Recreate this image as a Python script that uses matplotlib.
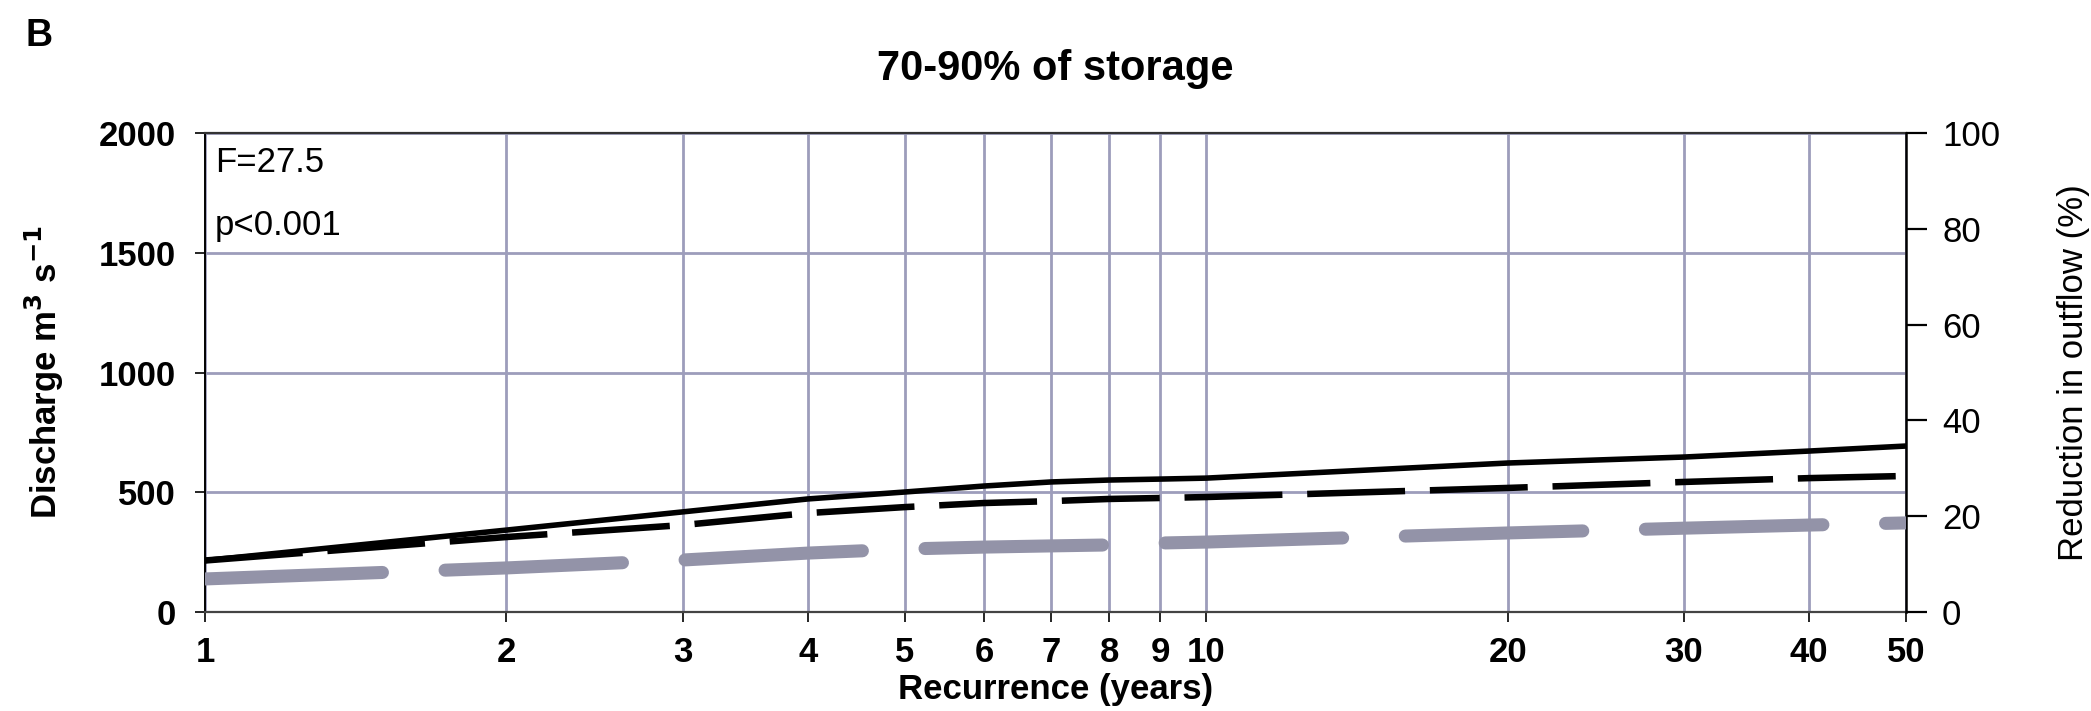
import matplotlib
matplotlib.use("Agg")
import matplotlib.pyplot as plt
from matplotlib.ticker import NullLocator, FixedLocator, FixedFormatter

# recurrence interval (years)
recurrence = [1, 2, 3, 4, 5, 6, 7, 8, 9, 10, 20, 30, 40, 50]
# discharge, m3 s-1
discharge_solid = [215, 342, 418, 472, 501, 526, 543, 551, 555, 559, 622, 647, 672, 693]
discharge_dashed = [215, 313, 363, 413, 438, 455, 463, 472, 476, 480, 518, 543, 559, 568]
# reduction in outflow, %
reduction_pct = [6.9, 9.2, 10.85, 12.3, 13.15, 13.55, 13.8, 14.0, 14.4, 14.6, 16.5, 17.5, 18.15, 18.6]

xticks = [1, 2, 3, 4, 5, 6, 7, 8, 9, 10, 20, 30, 40, 50]
xticklabels = ["1", "2", "3", "4", "5", "6", "7", "8", "9", "10", "20", "30", "40", "50"]
left_ticks = [0, 500, 1000, 1500, 2000]
right_ticks = [0, 20, 40, 60, 80, 100]

GRID = "#9d9dbb"
GRAY = "#9393a8"

plt.rcParams["font.family"] = ["Liberation Sans", "DejaVu Sans"]

W, H = 2091, 711
fig = plt.figure(figsize=(W / 100, H / 100), dpi=100)
x0, x1, ytop, ybot = 205, 1906, 133, 612
ax = fig.add_axes([x0 / W, 1 - ybot / H, (x1 - x0) / W, (ybot - ytop) / H])
ax2 = ax.twinx()

ax.plot(recurrence, discharge_solid, color="black", lw=4.0, solid_capstyle="butt", zorder=3)
ax.plot(recurrence, discharge_dashed, color="black", lw=4.7, dashes=(15, 3.8),
        dash_capstyle="butt", zorder=3)
ax2.plot(recurrence, reduction_pct, color=GRAY, lw=9.4, dashes=(13.6, 4.8),
         dash_capstyle="round", zorder=3)

ax.set_xscale("log")
ax.set_xlim(1, 50)
ax.xaxis.set_major_locator(FixedLocator(xticks))
ax.xaxis.set_major_formatter(FixedFormatter(xticklabels))
ax.xaxis.set_minor_locator(NullLocator())
ax.set_ylim(0, 2000)
ax.set_yticks(left_ticks)
ax2.set_ylim(0, 100)
ax2.set_yticks(right_ticks)

ax.grid(True, color=GRID, lw=2.0, zorder=0)
ax.set_axisbelow(True)

for lab in ax.get_xticklabels() + ax.get_yticklabels():
    lab.set_fontweight("bold")
ax.tick_params(axis="x", length=7, width=1.2, pad=10, labelsize=25, direction="out")
ax.tick_params(axis="y", length=7, width=1.2, pad=14, labelsize=25, direction="out")
ax2.tick_params(axis="y", length=15, width=1.6, pad=11, labelsize=25, direction="out")

ax.spines["left"].set_color("black")
ax.spines["left"].set_linewidth(1.4)
ax.spines["top"].set_color("#333333")
ax.spines["top"].set_linewidth(1.6)
ax.spines["bottom"].set_color("#444444")
ax.spines["bottom"].set_linewidth(1.6)
ax.spines["right"].set_visible(False)
for s in ("left", "top", "bottom"):
    ax2.spines[s].set_visible(False)
ax2.spines["right"].set_color("black")
ax2.spines["right"].set_linewidth(1.8)

ax.set_xlabel("Recurrence (years)", fontsize=25, fontweight="bold", labelpad=3)
ax.set_ylabel(r"Discharge m$^\mathbf{3}$ s$^\mathbf{-1}$", fontsize=25, fontweight="bold")
ax.yaxis.set_label_coords(-0.082, 0.5)
ax2.set_ylabel("Reduction in outflow (%)", fontsize=25, rotation=90, va="top")
ax2.yaxis.set_label_coords(1.089, 0.5)

ax.set_title("70-90% of storage", fontsize=30, fontweight="bold", pad=38)

ax.text(0.006, 0.9186, "F=27.5", transform=ax.transAxes, fontsize=25, va="baseline")
ax.text(0.006, 0.787, "p<0.001", transform=ax.transAxes, fontsize=25, va="baseline")
fig.text(26 / W, 0.975, "B", fontsize=27, fontweight="bold", va="top")

fig.savefig("out.png", dpi=100)
